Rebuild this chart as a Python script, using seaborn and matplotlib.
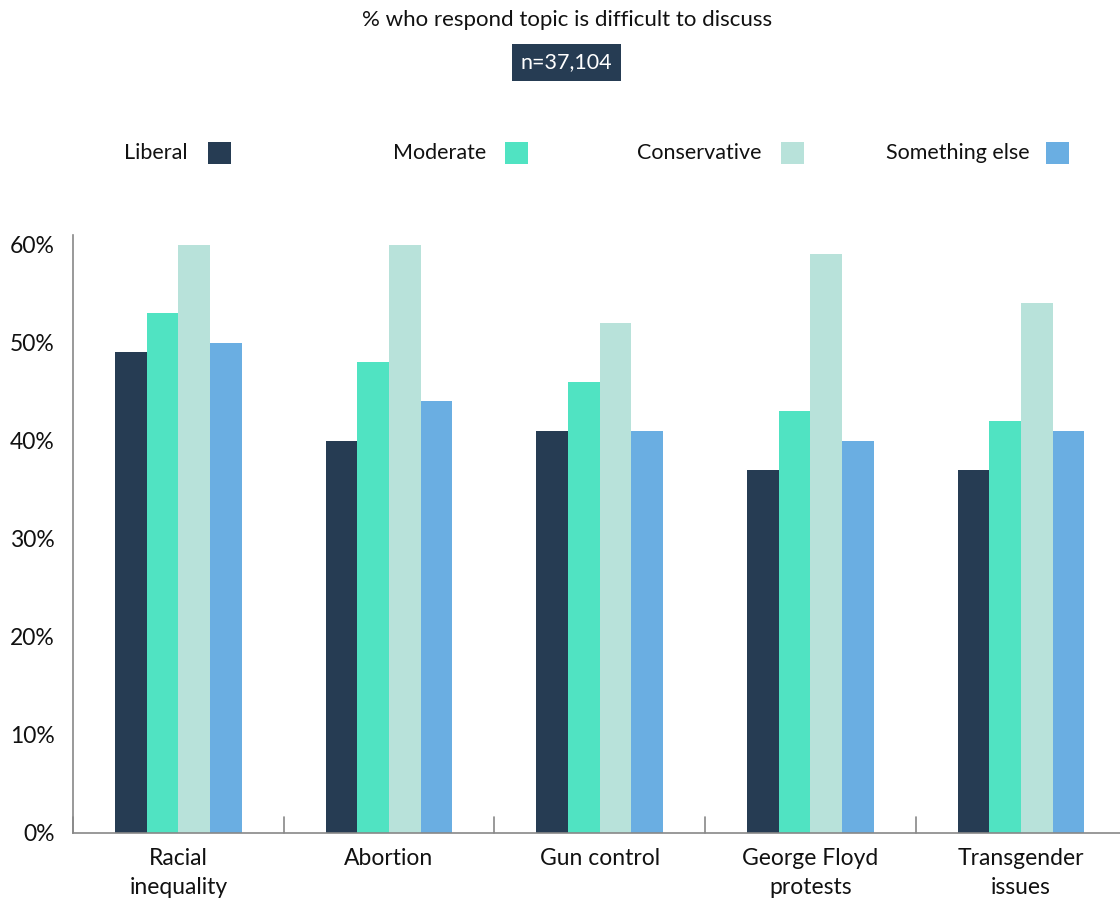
import matplotlib
matplotlib.use("Agg")
import matplotlib.pyplot as plt
import matplotlib.patches as mpatches
import numpy as np
import pandas as pd
import seaborn as sns

# ---------------------------------------------------------------------------
# Data
# ---------------------------------------------------------------------------
topics = ["Racial\ninequality", "Abortion", "Gun control", "George Floyd\nprotests", "Transgender\nissues"]
groups = ["Liberal", "Moderate", "Conservative", "Something else"]
liberal = [49, 40, 41, 37, 37]
moderate = [53, 48, 46, 43, 42]
conservative = [60, 60, 52, 59, 54]
something_else = [50, 44, 41, 40, 41]
y_ticks = [0, 10, 20, 30, 40, 50, 60]

colors = ["#263c53", "#50e3c2", "#b8e2da", "#6aaee2"]

df = pd.DataFrame({
    "topic": topics * 4,
    "group": [g for g in groups for _ in topics],
    "value": liberal + moderate + conservative + something_else,
})

# ---------------------------------------------------------------------------
# Plot
# ---------------------------------------------------------------------------
sns.set_style("white")
plt.rcParams["font.family"] = ["Lato", "DejaVu Sans"]

fig = plt.figure(figsize=(11.2, 9.01), dpi=100)
ax = fig.add_axes([0.0652, 0.0755, 0.9348, 0.664])

sns.barplot(
    data=df, x="topic", y="value", hue="group", hue_order=groups,
    palette=colors, width=0.6, saturation=1, ax=ax, legend=False,
    errorbar=None, linewidth=0,
)

ax.set_xlim(-0.5, 4.47)
ax.set_ylim(0, 61)
ax.set_yticks(y_ticks)
ax.set_yticklabels([f"{t}%" for t in y_ticks], fontsize=16.5, color="#111111")
ax.tick_params(axis="y", length=0, pad=13)
ax.set_xlabel("")
ax.set_ylabel("")
ax.set_xticks(range(len(topics)))
ax.set_xticklabels(topics, fontsize=16.5, color="#111111", linespacing=1.45)
ax.tick_params(axis="x", length=0, pad=11)

# separators between groups
for x in np.arange(-0.5, 4.0, 1.0):
    ax.plot([x, x], [0, 1.6], color="#888888", lw=1.2, clip_on=False)

for side in ["top", "right"]:
    ax.spines[side].set_visible(False)
for side in ["left", "bottom"]:
    ax.spines[side].set_color("#888888")
    ax.spines[side].set_linewidth(1.2)

# title + sample size box
fig.text(0.506, 0.978, "% who respond topic is difficult to discuss",
         ha="center", va="center", fontsize=16, color="#111111")
fig.text(0.506, 0.931, "n=37,104", ha="center", va="center", fontsize=15.5,
         color="white",
         bbox=dict(boxstyle="square,pad=0.4", fc="#263c53", ec="none"))

# legend: label then swatch
label_right = [188, 486, 762, 1030]
swatch_left = [208, 505, 781, 1046]
for name, col, xr, xs in zip(groups, colors, label_right, swatch_left):
    fig.text(xr / 1120, 1 - 153 / 901, name, ha="right", va="center",
             fontsize=15.5, color="#111111")
    fig.add_artist(mpatches.Rectangle(
        (xs / 1120, 1 - 164 / 901), 23 / 1120, 22 / 901,
        transform=fig.transFigure, fc=col, ec="none"))

fig.savefig("out.png", dpi=100)
